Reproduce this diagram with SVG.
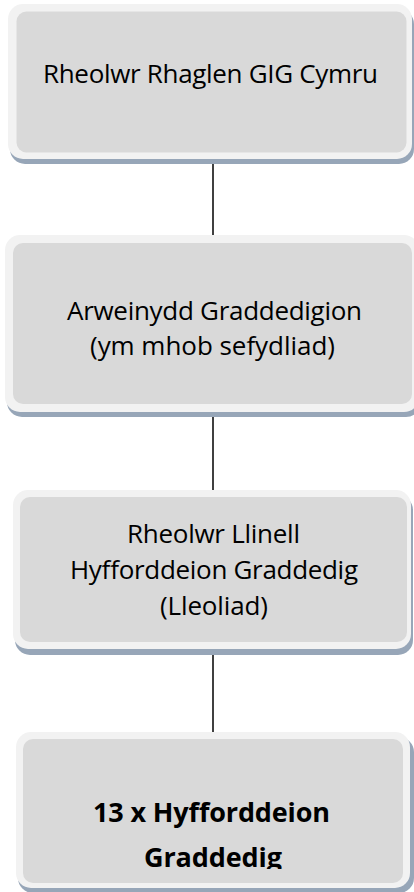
<svg xmlns="http://www.w3.org/2000/svg" width="414" height="892" viewBox="0 0 414 892">
<style>
.shadow{fill:#97a6b8}
.outer{fill:#f2f2f2}
.inner{fill:#d9d9d9}
.t{font-family:"Open Sans","Noto Sans",sans-serif;font-size:26px;fill:#000;text-anchor:middle}
.b{font-family:"Open Sans","Noto Sans",sans-serif;font-size:27px;font-weight:bold;fill:#000;text-anchor:middle}
.conn{stroke:#000;stroke-width:1.5;fill:none}
</style>
<defs>
<clipPath id="clip4"><rect x="23" y="739" width="380" height="130"/></clipPath>
</defs>
<rect width="414" height="892" fill="#fff"/>
<g id="connectors">
<line class="conn" x1="213" y1="163" x2="213" y2="235"/>
<line class="conn" x1="213" y1="416" x2="213" y2="490"/>
<line class="conn" x1="213" y1="655" x2="213" y2="732"/>
</g>
<g id="node1">
<rect class="shadow" x="10" y="9" width="404" height="155" rx="15"/>
<rect class="outer" x="8" y="4" width="404" height="155" rx="15"/>
<rect class="inner" x="16.5" y="11.5" width="390" height="141" rx="10"/>
<text class="t" x="210.5" y="83" textLength="335" lengthAdjust="spacing">Rheolwr Rhaglen GIG Cymru</text>
</g>
<g id="node2">
<rect class="shadow" x="7" y="240" width="414" height="177" rx="15"/>
<rect class="outer" x="5" y="235" width="414" height="177" rx="15"/>
<rect class="inner" x="13" y="243" width="399" height="161" rx="10"/>
<text class="t" x="214.5" y="320" textLength="295" lengthAdjust="spacing">Arweinydd Graddedigion</text>
<text class="t" x="212.5" y="355" textLength="245" lengthAdjust="spacing">(ym mhob sefydliad)</text>
</g>
<g id="node3">
<rect class="shadow" x="15" y="495" width="398" height="160" rx="15"/>
<rect class="outer" x="13" y="490" width="398" height="159" rx="15"/>
<rect class="inner" x="20" y="497" width="387" height="145" rx="10"/>
<text class="t" x="213.5" y="543" textLength="173" lengthAdjust="spacing">Rheolwr Llinell</text>
<text class="t" x="214" y="579" textLength="288" lengthAdjust="spacing">Hyfforddeion Graddedig</text>
<text class="t" x="214" y="615" textLength="108" lengthAdjust="spacing">(Lleoliad)</text>
</g>
<g id="node4">
<rect class="shadow" x="18" y="737" width="396" height="156" rx="15"/>
<rect class="outer" x="16" y="732" width="394" height="156" rx="15"/>
<rect class="inner" x="23" y="739" width="380" height="144" rx="10"/>
<text class="b" x="211.5" y="822" textLength="237" lengthAdjust="spacing">13 x Hyfforddeion</text>
<g clip-path="url(#clip4)">
<text class="b" x="213" y="867" textLength="138" lengthAdjust="spacing">Graddedig</text>
</g>
</g>
</svg>
